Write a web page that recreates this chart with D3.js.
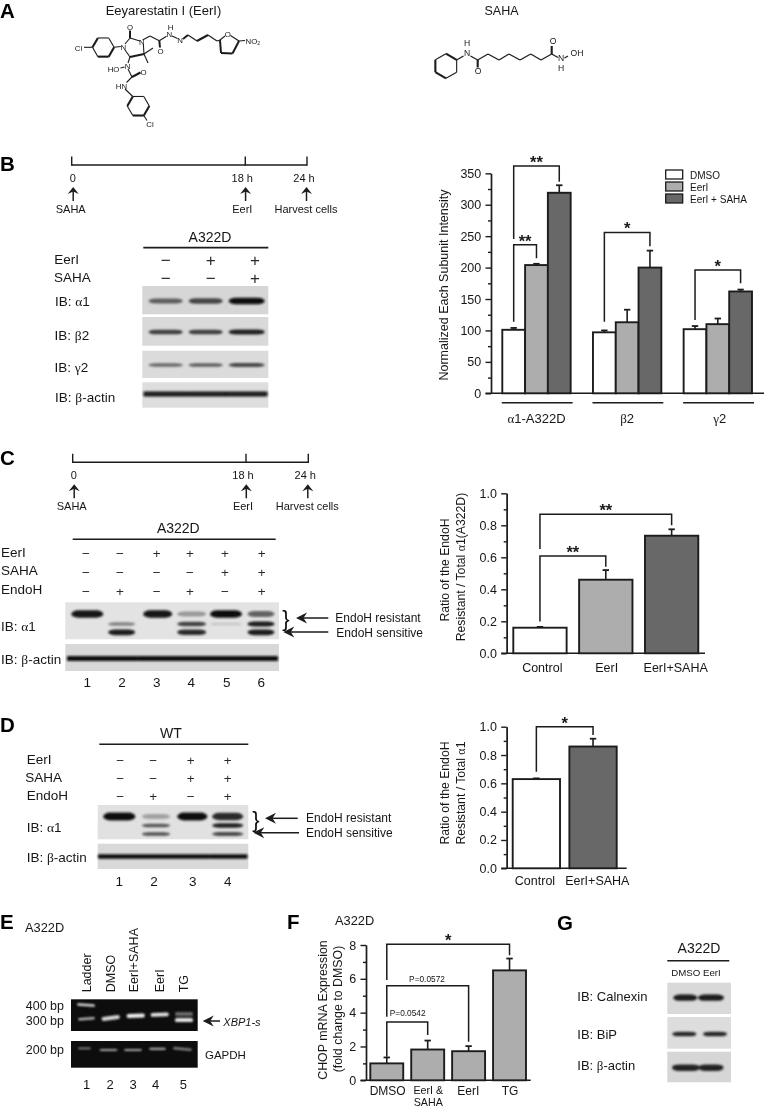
<!DOCTYPE html>
<html>
<head>
<meta charset="utf-8">
<script src="https://cdn.jsdelivr.net/npm/d3@7"></script>
<style>
  html, body { margin: 0; padding: 0; background: #fff; }
  svg { display: block; }
  text { font-family: "Liberation Sans", Arial, sans-serif; fill: #161616; }
</style>
</head>
<body>
<div id="viz"></div>
<script>
// panel B values
const bGroups = ['α1-A322D', 'β2', 'γ2'];
const bSeries = ['DMSO', 'EerI', 'EerI + SAHA'];
const bDmso = [101, 97, 102];
const bEerI = [204, 113, 110];
const bEerISaha = [319, 200, 162];
const bDmsoErr = [3, 3, 5];
const bEerIErr = [2, 20, 9];
const bEerISahaErr = [12, 27, 3];

// panel C values
const cCategories = ['Control', 'EerI', 'EerI+SAHA'];
const cValues = [0.16, 0.46, 0.735];
const cErr = [0.005, 0.06, 0.04];

// panel D values
const dCategories = ['Control', 'EerI+SAHA'];
const dValues = [0.63, 0.86];
const dErr = [0.005, 0.055];

// panel F values
const fCategories = ['DMSO', 'EerI &|SAHA', 'EerI', 'TG'];
const fValues = [1.0, 1.82, 1.72, 6.5];
const fErr = [0.35, 0.53, 0.3, 0.7];

// blot band darkness per lane, 0 = nothing, 1 = black
const bBlotAlpha = [0.6, 0.72, 0.98];
const bBlotBeta = [0.75, 0.75, 0.9];
const bBlotGamma = [0.55, 0.6, 0.72];
const bBlotActin = [0.92, 0.92, 0.92];
const cBlotUpper = [0.95, 0, 0.97, 0.35, 0.98, 0.6];
const cBlotMiddle = [0, 0.45, 0, 0.75, 0.14, 0.93];
const cBlotLower = [0, 0.93, 0, 0.85, 0, 0.93];
const cBlotActin = [0.98, 0.98, 0.98, 0.98, 0.98, 0.98];
const dBlotUpper = [0.98, 0.3, 0.98, 0.85];
const dBlotMiddle = [0, 0.65, 0, 0.9];
const dBlotLower = [0, 0.68, 0, 0.72];
const dBlotActin = [0.98, 0.98, 0.98, 0.98];
const gBlotCalnexin = [0.92, 0.92];
const gBlotBip = [0.88, 0.88];
const gBlotActin = [0.9, 0.9];

// gel band brightness
const eGelLadder = [0.85, 0.7];
const eGelXbp = [0.85, 0.95, 0.9, 0.9];
const eGelTgUpper = 0.4;
const eGelGapdh = [0.55, 0.65, 0.65, 0.65, 0.5];

const root = d3.select('#viz').append('svg').attr('width', 765).attr('height', 1108);
const defs = root.append('defs');
defs.append('filter').attr('id', 'blur').attr('x', '-20%').attr('y', '-100%').attr('width', '140%').attr('height', '300%')
  .append('feGaussianBlur').attr('stdDeviation', 0.9);
// the whole figure is a soft scan, so everything goes through a small blur
defs.append('filter').attr('id', 'soft').attr('filterUnits', 'userSpaceOnUse')
  .attr('x', 0).attr('y', 0).attr('width', 765).attr('height', 1108)
  .append('feGaussianBlur').attr('stdDeviation', 0.4);
const svg = root.append('g').attr('filter', 'url(#soft)');

const ink = '#1c1c1c';

// text helper, greek letters go in a serif tspan so they look like the symbol font
function txt(x, y, s, o) {
  o = o || {};
  const el = (o.g || svg).append('text')
    .attr('x', x).attr('y', y)
    .attr('dominant-baseline', 'central')
    .attr('text-anchor', o.anchor || 'start')
    .style('font-size', (o.size || 12.5) + 'px');
  if (o.weight) el.style('font-weight', o.weight);
  if (o.italic) el.style('font-style', 'italic');
  if (o.fill) el.style('fill', o.fill);
  if (o.rotate) el.attr('transform', `rotate(${o.rotate} ${x} ${y})`);
  s.split(/([αβγ])/).filter(p => p !== '').forEach(p => {
    const ts = el.append('tspan').text(p);
    if (/[αβγ]/.test(p)) ts.style('font-family', '"Liberation Serif", serif');
  });
  return el;
}

function seg(x1, y1, x2, y2, w, g) {
  return (g || svg).append('line')
    .attr('x1', x1).attr('y1', y1).attr('x2', x2).attr('y2', y2)
    .style('stroke', ink).style('stroke-width', w || 1).style('stroke-linecap', 'butt');
}

function arrowUp(x, tip, tail) {
  seg(x, tip + 3, x, tail, 1.5);
  svg.append('path')
    .attr('d', `M${x},${tip} L${x + 5.5},${tip + 7} L${x},${tip + 4.5} L${x - 5.5},${tip + 7} Z`)
    .style('fill', ink);
}

function arrowLeft(tip, tail, y) {
  seg(tip + 4, y, tail, y, 1.5);
  svg.append('path')
    .attr('d', `M${tip},${y} L${tip + 11},${y - 5.5} L${tip + 7.5},${y} L${tip + 11},${y + 5.5} Z`)
    .style('fill', ink);
}

function panelLetter(s, x, y) {
  txt(x, y, s, { size: 20.5, weight: 'bold', fill: '#000' });
}

// hexagon from centre and radius, start angle in degrees
function ring(cx, cy, r, start, thick) {
  const pts = d3.range(6).map(i => {
    const a = (start + i * 60) * Math.PI / 180;
    return [cx + r * Math.cos(a), cy + r * Math.sin(a)];
  });
  pts.forEach((p, i) => {
    const q = pts[(i + 1) % 6];
    seg(p[0], p[1], q[0], q[1], thick.includes(i) ? 2.1 : 1.1);
  });
}

// panel A
function drawStructures() {
  txt(163.5, 10, 'Eeyarestatin I (EerI)', { anchor: 'middle', size: 13 });
  txt(501.5, 11, 'SAHA', { anchor: 'middle', size: 12.5 });

  const atom = { anchor: 'middle', size: 7.8 };
  ring(103.3, 47.3, 10.8, 0, [0, 1, 3]);
  ring(138.3, 106, 11, 0, [0, 1, 3]);
  const thin = [
    [84, 47.3, 92.5, 47.3], [114.1, 47.3, 120.8, 46.5], [125, 44, 130, 38], [130, 38, 140, 41],
    [143.4, 45, 144, 54], [130, 57, 125, 50], [144, 54, 153, 48], [144, 54, 148, 63],
    [130, 57, 128, 63], [120.5, 68, 124.5, 67], [128, 69, 132, 77], [132, 77, 126.5, 82.5],
    [125, 89, 132.8, 96.5], [143.8, 115.5, 147, 120.5],
    [142.6, 40, 150, 36], [150, 36, 159.3, 40.7], [159.3, 40.7, 166.5, 36.2],
    [172, 36, 177.5, 38.5], [188, 35, 197, 41], [208, 35, 217, 41], [217, 41, 220, 40],
    [220, 40, 225, 36], [230.5, 35.5, 239, 41], [239, 41, 245, 40.5]
  ];
  thin.forEach(b => seg(b[0], b[1], b[2], b[3], 1.1));
  const heavy = [
    [144, 54, 130, 57], [130, 38, 130, 30.5], [132, 77, 140.5, 72.5], [159.3, 40.7, 160, 47.5],
    [183, 39, 188, 35], [197, 41, 208, 35], [239, 41, 232.5, 53.5], [232.5, 53.5, 221, 53], [221, 53, 220, 40]
  ];
  heavy.forEach(b => seg(b[0], b[1], b[2], b[3], 2));
  [['Cl', 78.5, 47.5], ['O', 130, 27], ['N', 123.3, 46.5], ['N', 141.7, 42], ['N', 127.5, 66],
   ['HO', 113.5, 69], ['O', 143.5, 72], ['HN', 121.5, 85.5], ['Cl', 150, 124],
   ['O', 160.5, 51], ['N', 169.3, 34], ['H', 170.6, 27], ['N', 180, 40], ['O', 227.7, 34]]
    .forEach(a => txt(a[1], a[2], a[0], atom));
  const no2 = txt(245.5, 41, 'NO', { size: 7.8 });
  no2.append('tspan').text('2').attr('dy', 2).style('font-size', '5px');

  ring(446, 66, 12.3, 30, [1, 2, 4]);
  const chain = [
    [456.6, 60, 463.5, 56], [470.5, 56, 477.7, 60], [477.7, 60, 488, 54], [488, 54, 499, 60], [499, 60, 509, 54],
    [509, 54, 520, 60], [520, 60, 530.7, 54], [530.7, 54, 541, 60], [541, 60, 551.7, 54],
    [551.7, 54, 558, 57.5], [564.5, 58, 568, 56]
  ];
  chain.forEach(b => seg(b[0], b[1], b[2], b[3], 1.3));
  seg(477.7, 60, 477.7, 67.5, 2.1);
  seg(551.7, 54, 551.7, 46, 2.1);
  const sa = { anchor: 'middle', size: 8.6 };
  [['H', 467, 43], ['N', 467, 53.2], ['O', 478, 71], ['O', 553, 41], ['N', 561, 58], ['H', 561, 68.2], ['OH', 577, 53]]
    .forEach(a => txt(a[1], a[2], a[0], sa));
}

function timeline(o) {
  seg(o.x0, o.y, o.x2, o.y, 1.5);
  [o.x0, o.x1, o.x2].forEach(x => seg(x, o.y + 0.7, x, o.y - 8.5, 1.4));
  const a = { anchor: 'middle', size: 11 };
  txt(o.x0 + 1, o.y + 13, '0', a);
  txt(o.x1 - 3, o.y + 13, '18 h', a);
  txt(o.x2 - 3, o.y + 13, '24 h', a);
  [o.x0 + 1.5, o.x1 + 0.3, o.x2 - 0.5].forEach(x => arrowUp(x, o.y + 22, o.y + 36));
  txt(o.x0 - 1, o.y + 44, 'SAHA', a);
  txt(o.x1 - 3, o.y + 44, 'EerI', a);
  txt(o.x2 - 1, o.y + 44, 'Harvest cells', a);
}

function signRows(columns, rows, ys, size) {
  rows.forEach((row, i) => {
    row.forEach((s, j) => {
      txt(columns[j], ys[i], s === 1 ? '+' : '\u2212', { anchor: 'middle', size: size, fill: '#2a2a2a' });
    });
  });
}

// western blot: grey strip with blurred lens shaped bands
function blot(o) {
  svg.append('rect')
    .attr('x', o.x0).attr('y', o.y0).attr('width', o.x1 - o.x0).attr('height', o.y1 - o.y0)
    .style('fill', o.bg || '#dcdcdc');
  const dark = d3.scaleLinear().domain([0, 1]).range([o.bg || '#dcdcdc', '#0c0c0c']);
  o.rows.forEach(r => {
    const g = svg.append('g').attr('filter', 'url(#blur)');
    const hh = d => r.h * (0.45 + d.v * 0.55);
    g.selectAll('rect').data(r.vals.map((v, i) => ({ v, i })).filter(d => d.v > 0)).join('rect')
      .attr('x', d => o.lanes[d.i] - o.widths[d.i] / 2)
      .attr('y', d => r.y - hh(d) / 2)
      .attr('width', d => o.widths[d.i])
      .attr('height', hh)
      .attr('rx', r.rx === undefined ? 7 : r.rx)
      .attr('ry', d => r.rx === undefined ? hh(d) / 2 : r.rx)
      .style('fill', d => dark(d.v));
  });
}

// gel with bright bands on black
function gel(x0, x1, y0, y1, bands) {
  svg.append('rect').attr('x', x0).attr('y', y0).attr('width', x1 - x0).attr('height', y1 - y0).style('fill', '#0b0b0b');
  const light = d3.scaleLinear().domain([0, 1]).range(['#0b0b0b', '#ffffff']);
  const g = svg.append('g').attr('filter', 'url(#blur)');
  g.selectAll('rect').data(bands).join('rect')
    .attr('x', d => d.x).attr('y', d => d.y - d.h / 2)
    .attr('width', d => d.w).attr('height', d => d.h).attr('rx', 1.5)
    .attr('transform', d => `rotate(${d.tilt || 0} ${d.x + d.w / 2} ${d.y})`)
    .style('fill', d => light(d.v));
}

// shared y axis with major and minor ticks
function yAxis(y, left, major, minor, fmt, right, size) {
  const g = svg.append('g').attr('transform', `translate(${left},0)`);
  const ax = g.append('g').call(d3.axisLeft(y).tickValues(major).tickSize(5.5).tickSizeOuter(0).tickFormat(fmt));
  const mi = g.append('g').call(d3.axisLeft(y).tickValues(minor).tickSize(3).tickSizeOuter(0).tickFormat(''));
  [ax, mi].forEach(a => {
    a.selectAll('path,line').style('stroke', ink).style('stroke-width', 1.4);
    a.selectAll('text').style('font-size', (size || 12.5) + 'px').attr('dx', '-0.1em');
  });
  seg(left - 5.5, y(0), right, y(0), 1.6);
}

function bars(g, data, o) {
  g.selectAll('rect').data(data).join('rect')
    .attr('x', d => d.x).attr('width', d => d.w)
    .attr('y', d => o.y(d.v)).attr('height', d => o.y(0) - o.y(d.v))
    .style('fill', d => d.fill).style('stroke', ink).style('stroke-width', 1.9);
  g.selectAll('line.err').data(data).join('line').attr('class', 'err')
    .attr('x1', d => d.x + d.w / 2).attr('x2', d => d.x + d.w / 2)
    .attr('y1', d => o.y(d.v)).attr('y2', d => o.y(d.v + d.e))
    .style('stroke', ink).style('stroke-width', 1.6);
  g.selectAll('line.cap').data(data).join('line').attr('class', 'cap')
    .attr('x1', d => d.x + d.w / 2 - 3.2).attr('x2', d => d.x + d.w / 2 + 3.2)
    .attr('y1', d => o.y(d.v + d.e)).attr('y2', d => o.y(d.v + d.e))
    .style('stroke', ink).style('stroke-width', 1.8);
}

// significance bracket, heights are in axis units
function bracket(x1, x2, y, from, top, to, star, size) {
  svg.append('path')
    .attr('d', `M${x1},${y(from)} V${y(top)} H${x2} V${y(to)}`)
    .style('fill', 'none').style('stroke', ink).style('stroke-width', 1.5);
  if (star) txt((x1 + x2) / 2, y(top) - 4, star, { anchor: 'middle', size: size || 16.5, weight: 'bold', fill: '#1a1a1a' });
}

const white = '#ffffff', lightGrey = '#adadad', darkGrey = '#686868';

drawStructures();
panelLetter('A', 0, 10);
panelLetter('B', 0, 163);
panelLetter('C', 0, 457);
panelLetter('D', 0, 724);
panelLetter('E', 0, 921);
panelLetter('F', 287, 921);
panelLetter('G', 557, 922);

// panel B left
timeline({ x0: 71.7, x1: 245.3, x2: 307, y: 165 });
txt(210, 236.7, 'A322D', { anchor: 'middle', size: 14 });
seg(143.3, 247.7, 268.3, 247.7, 1.7);
txt(54.3, 259, 'EerI', { size: 13.5 });
txt(54, 277, 'SAHA', { size: 13.5 });
signRows([165.7, 210.7, 255], [[0, 1, 1], [0, 0, 1]], [260, 278], 17);
const bLanes = [165.7, 205.7, 246.7], bWidths = [34, 34, 36];
blot({ x0: 142.3, x1: 268.3, y0: 286, y1: 314.3, bg: '#d6d6d6', lanes: bLanes, widths: bWidths, rows: [{ y: 301, h: 6.5, vals: bBlotAlpha }] });
blot({ x0: 142.3, x1: 268.3, y0: 317, y1: 345.7, bg: '#d9d9d9', lanes: bLanes, widths: bWidths, rows: [{ y: 332, h: 5.5, vals: bBlotBeta }] });
blot({ x0: 142.3, x1: 268.3, y0: 350.7, y1: 378, bg: '#dbdbdb', lanes: bLanes, widths: bWidths, rows: [{ y: 365, h: 4.5, vals: bBlotGamma }] });
blot({ x0: 142.3, x1: 268.3, y0: 382.3, y1: 407.7, bg: '#dedede', lanes: [165, 206, 246], widths: [43, 42, 43], rows: [{ y: 394, h: 5, rx: 1, vals: bBlotActin }] });
txt(55, 301.3, 'IB: α1', { size: 13.5 });
txt(54.5, 335, 'IB: β2', { size: 13.5 });
txt(54.5, 366.5, 'IB: γ2', { size: 13.5 });
txt(55, 397, 'IB: β-actin', { size: 13.5 });

// panel B chart
{
  const y = d3.scaleLinear().domain([0, 350]).range([393.3, 173.3]);
  const x0 = d3.scaleBand().domain(bGroups).range([502.3, 752]).paddingInner(0.246);
  const x1 = d3.scaleBand().domain(bSeries).range([0, x0.bandwidth()]);
  const fill = d3.scaleOrdinal().domain(bSeries).range([white, lightGrey, darkGrey]);
  yAxis(y, 491, d3.range(0, 351, 50), d3.range(25, 350, 50), d3.format('d'), 764);
  const vals = [bDmso, bEerI, bEerISaha], errs = [bDmsoErr, bEerIErr, bEerISahaErr];
  const data = [];
  bGroups.forEach((g, i) => bSeries.forEach((s, j) => data.push({
    x: x0(g) + x1(s), w: x1.bandwidth(), v: vals[j][i], e: errs[j][i], fill: fill(s)
  })));
  bars(svg.append('g'), data, { y });
  const c = (g, s) => x0(g) + x1(s) + x1.bandwidth() / 2;
  bracket(c(bGroups[0], bSeries[0]), c(bGroups[0], bSeries[2]), y, 245.5, 361.6, 336.7, '**');
  bracket(c(bGroups[0], bSeries[0]), c(bGroups[0], bSeries[1]), y, 114, 236.4, 215, '**');
  bracket(c(bGroups[1], bSeries[0]), c(bGroups[1], bSeries[2]), y, 114, 256, 234, '*');
  bracket(c(bGroups[2], bSeries[0]), c(bGroups[2], bSeries[2]), y, 116.6, 196, 175, '*');
  bGroups.forEach(g => {
    seg(x0(g) - 0.5, 402.7, x0(g) + x0.bandwidth() + 2, 402.7, 1.6);
    txt(x0(g) + x0.bandwidth() / 2 + (g === 'γ2' ? 2 : 0), 418, g, { anchor: 'middle', size: 13 });
  });
  txt(444.3, 285, 'Normalized Each Subunit Intensity', { anchor: 'middle', size: 12.5, rotate: -90 });
  const leg = svg.append('g');
  bSeries.forEach((s, i) => {
    const ly = [170, 182, 194][i];
    leg.append('rect').attr('x', 665.7).attr('y', ly).attr('width', 17).attr('height', 9)
      .style('fill', fill(s)).style('stroke', ink).style('stroke-width', 1.3);
    txt(690, ly + 4.7, s, { size: 10, g: leg });
  });
}

// panel C left
timeline({ x0: 72.7, x1: 246, x2: 308.3, y: 462.3 });
txt(178.3, 528.3, 'A322D', { anchor: 'middle', size: 14 });
seg(72.7, 539.3, 275.7, 539.3, 1.5);
txt(1, 552, 'EerI', { size: 13.5 });
txt(1, 569.7, 'SAHA', { size: 13.5 });
txt(1, 589, 'EndoH', { size: 13.5 });
signRows([86, 120, 156.7, 190, 225, 261.7], [[0, 0, 1, 1, 1, 1], [0, 0, 0, 0, 1, 1], [0, 1, 0, 1, 0, 1]], [553.3, 572, 590.7], 13.5);
const cLanes = [87.3, 121.7, 157.7, 191.7, 226, 261];
const cWidths = [32, 27, 29, 29, 32, 27];
blot({ x0: 65.3, x1: 279, y0: 602.3, y1: 639.3, bg: '#e3e3e3', lanes: cLanes, widths: cWidths, rows: [
  { y: 614, h: 7.5, vals: cBlotUpper },
  { y: 624, h: 5, vals: cBlotMiddle },
  { y: 632.3, h: 6, vals: cBlotLower }
] });
blot({ x0: 65.3, x1: 279, y0: 644, y1: 671, bg: '#d8d8d8', lanes: [85, 120, 155.5, 190, 225, 260], widths: [36, 36, 36, 36, 36, 36], rows: [{ y: 658.5, h: 5, rx: 1, vals: cBlotActin }] });
txt(1, 626, 'IB: α1', { size: 13.5 });
txt(1, 659, 'IB: β-actin', { size: 13.5 });
[87.3, 122, 156.7, 191.3, 226.7, 261.3].forEach((x, i) => txt(x, 681.7, String(i + 1), { anchor: 'middle', size: 13.5 }));
txt(286, 618, '}', { anchor: 'middle', size: 22, fill: '#111' });
arrowLeft(296, 328.3, 618);
arrowLeft(283.3, 328.3, 632);
txt(335.3, 618, 'EndoH resistant', { size: 12 });
txt(336.3, 633.3, 'EndoH sensitive', { size: 12 });

// panel C chart
{
  const y = d3.scaleLinear().domain([0, 1]).range([653.3, 493.3]);
  const x = d3.scaleBand().domain(cCategories).range([513.3, 698.3]).paddingInner(0.19);
  const fills = [white, lightGrey, darkGrey];
  yAxis(y, 506.7, d3.range(0, 1.01, 0.2), d3.range(0.1, 1, 0.2), d3.format('.1f'), 705);
  bars(svg.append('g'), cCategories.map((c, i) => ({ x: x(c), w: x.bandwidth(), v: cValues[i], e: cErr[i], fill: fills[i] })), { y });
  const c = n => x(n) + x.bandwidth() / 2;
  bracket(c('Control'), c('EerI+SAHA'), y, 0.652, 0.869, 0.8, '**');
  bracket(c('Control'), c('EerI'), y, 0.198, 0.608, 0.541, '**');
  txt(542.3, 667.7, 'Control', { anchor: 'middle' });
  txt(606.7, 667.7, 'EerI', { anchor: 'middle' });
  txt(675.7, 667.7, 'EerI+SAHA', { anchor: 'middle' });
  txt(445, 570, 'Ratio of the EndoH', { anchor: 'middle', size: 12.2, rotate: -90 });
  txt(460.7, 567, 'Resistant / Total α1(A322D)', { anchor: 'middle', size: 12.2, rotate: -90 });
}

// panel D left
txt(171, 733.3, 'WT', { anchor: 'middle', size: 14 });
seg(99.3, 744.3, 248.3, 744.3, 1.6);
txt(26.7, 758.7, 'EerI', { size: 13.5 });
txt(25.3, 776.7, 'SAHA', { size: 13.5 });
txt(26.7, 795, 'EndoH', { size: 13.5 });
signRows([120.3, 153.3, 190.7, 227.7], [[0, 0, 1, 1], [0, 0, 1, 1], [0, 1, 0, 1]], [760, 778, 796.3], 13.5);
const dLanes = [119.3, 156, 192.3, 227.7], dWidths = [32, 28, 30, 31];
blot({ x0: 97.7, x1: 248.3, y0: 805, y1: 839.3, bg: '#e1e1e1', lanes: dLanes, widths: dWidths, rows: [
  { y: 816.5, h: 8, vals: dBlotUpper },
  { y: 825.5, h: 4.5, vals: dBlotMiddle },
  { y: 834, h: 4.5, vals: dBlotLower }
] });
blot({ x0: 97.7, x1: 248.3, y0: 843.7, y1: 869, bg: '#d9d9d9', lanes: [117, 154, 191, 228.5], widths: [38, 38, 38, 38], rows: [{ y: 856.5, h: 4.5, rx: 1, vals: dBlotActin }] });
txt(26.7, 827, 'IB: α1', { size: 13.5 });
txt(26.7, 857, 'IB: β-actin', { size: 13.5 });
[119.3, 154, 192.7, 227.7].forEach((x, i) => txt(x, 881, String(i + 1), { anchor: 'middle', size: 13.5 }));
txt(256, 818.5, '}', { anchor: 'middle', size: 22, fill: '#111' });
arrowLeft(265, 297.7, 818.3);
arrowLeft(253.3, 299, 832.7);
txt(306, 818, 'EndoH resistant', { size: 12 });
txt(306, 832.7, 'EndoH sensitive', { size: 12 });

// panel D chart
{
  const y = d3.scaleLinear().domain([0, 1]).range([868.3, 726.7]);
  const x = d3.scaleBand().domain(dCategories).range([512.7, 616.7]).paddingInner(0.165);
  const fills = [white, darkGrey];
  yAxis(y, 506.7, d3.range(0, 1.01, 0.2), d3.range(0.1, 1, 0.2), d3.format('.1f'), 626.7);
  bars(svg.append('g'), dCategories.map((c, i) => ({ x: x(c), w: x.bandwidth(), v: dValues[i], e: dErr[i], fill: fills[i] })), { y });
  const c = n => x(n) + x.bandwidth() / 2;
  bracket(c('Control'), c('EerI+SAHA'), y, 0.682, 1.0, 0.941, '*');
  txt(535, 881, 'Control', { anchor: 'middle' });
  txt(597.3, 881, 'EerI+SAHA', { anchor: 'middle' });
  txt(445, 793, 'Ratio of the EndoH', { anchor: 'middle', size: 12.2, rotate: -90 });
  txt(460.7, 793, 'Resistant / Total α1', { anchor: 'middle', size: 12.2, rotate: -90 });
}

// panel E
txt(25, 926.7, 'A322D', { size: 12.8 });
[['Ladder', 86.7], ['DMSO', 111], ['EerI+SAHA', 134], ['EerI', 160], ['TG', 184]]
  .forEach(l => txt(l[1], 992.3, l[0], { size: 12.5, rotate: -90 }));
{
  const w = 18;
  const xs = [101.7, 126.7, 150.7, 175];
  gel(71, 197.7, 999.3, 1031, [
    { x: 77, y: 1005, w: 18, h: 2.6, v: eGelLadder[0], tilt: 4 },
    { x: 78, y: 1018.7, w: 17, h: 2.6, v: eGelLadder[1], tilt: -4 },
    { x: xs[0], y: 1018, w, h: 4, v: eGelXbp[0], tilt: -7 },
    { x: xs[1], y: 1015.7, w, h: 4, v: eGelXbp[1], tilt: -2 },
    { x: xs[2], y: 1014.7, w, h: 3.8, v: eGelXbp[2], tilt: -2 },
    { x: xs[3], y: 1020, w, h: 4, v: eGelXbp[3] },
    { x: xs[3], y: 1014, w, h: 4, v: eGelTgUpper }
  ]);
  gel(71, 197.7, 1041, 1067.7, [
    { x: 78, y: 1048.3, w: 13, h: 1.8, v: eGelGapdh[0] },
    { x: 99.5, y: 1050, w: 18, h: 2.2, v: eGelGapdh[1] },
    { x: 124, y: 1050, w: 18, h: 2.2, v: eGelGapdh[2] },
    { x: 149, y: 1048.8, w: 17, h: 2.2, v: eGelGapdh[3] },
    { x: 173, y: 1049, w: 19, h: 2.4, v: eGelGapdh[4], tilt: 5 }
  ]);
}
txt(64, 1006, '400 bp', { anchor: 'end' });
txt(64, 1021.3, '300 bp', { anchor: 'end' });
txt(64, 1050.3, '200 bp', { anchor: 'end' });
[86.7, 110, 133, 155.7, 183.3].forEach((x, i) => txt(x, 1084.3, String(i + 1), { anchor: 'middle', size: 13 }));
arrowLeft(202.7, 220, 1021);
txt(223.3, 1021.7, 'XBP1-s', { size: 11, italic: true });
txt(205, 1055, 'GAPDH', { size: 11.5 });

// panel F
txt(335, 920, 'A322D', { size: 12.8 });
{
  const y = d3.scaleLinear().domain([0, 8]).range([1080.3, 945]);
  const x = d3.scaleBand().domain(fCategories).range([370.3, 526]).paddingInner(0.195);
  yAxis(y, 366, d3.range(0, 9, 2), d3.range(1, 8, 2), d3.format('d'), 530.7);
  bars(svg.append('g'), fCategories.map((c, i) => ({ x: x(c), w: x.bandwidth(), v: fValues[i], e: fErr[i], fill: lightGrey })), { y });
  const c = i => x(fCategories[i]) + x.bandwidth() / 2;
  bracket(c(0), c(3), y, 5.93, 8.05, 7.4, '*');
  bracket(c(0), c(2), y, 3.76, 5.59, 2.28);
  bracket(c(0), c(1), y, 1.39, 3.45, 2.68);
  txt(427, 979, 'P=0.0572', { anchor: 'middle', size: 8.3 });
  txt(407.7, 1013.3, 'P=0.0542', { anchor: 'middle', size: 8.3 });
  txt(387.7, 1091, 'DMSO', { anchor: 'middle', size: 12 });
  fCategories[1].split('|').forEach((s, i) => txt(428.3, 1089.5 + i * 12.4, s, { anchor: 'middle', size: 10.7 }));
  txt(468.3, 1091, 'EerI', { anchor: 'middle', size: 12 });
  txt(510, 1091, 'TG', { anchor: 'middle', size: 12 });
  txt(322.7, 1010, 'CHOP mRNA Expression', { anchor: 'middle', size: 12.4, rotate: -90 });
  txt(338.3, 1009, '(fold change to DMSO)', { anchor: 'middle', size: 12.4, rotate: -90 });
}

// panel G
txt(699, 948.3, 'A322D', { anchor: 'middle', size: 14 });
seg(667.3, 960.7, 729.3, 960.7, 1.6);
txt(696, 972, 'DMSO EerI', { anchor: 'middle', size: 9.7 });
blot({ x0: 667.3, x1: 731, y0: 982.7, y1: 1014, bg: '#d9d9d9', lanes: [685.3, 711], widths: [24, 26], rows: [{ y: 997.7, h: 6.5, vals: gBlotCalnexin }] });
blot({ x0: 667.3, x1: 731, y0: 1017, y1: 1048.7, bg: '#dddddd', lanes: [684.3, 715], widths: [24, 24], rows: [{ y: 1034, h: 5, vals: gBlotBip }] });
blot({ x0: 667.3, x1: 731, y0: 1051.7, y1: 1082.3, bg: '#d6d6d6', lanes: [686, 711], widths: [28, 25], rows: [{ y: 1067.7, h: 7, vals: gBlotActin }] });
txt(577.3, 996.3, 'IB: Calnexin', { size: 13 });
txt(577.3, 1034, 'IB: BiP', { size: 13 });
txt(577.3, 1064.7, 'IB: β-actin', { size: 13 });
</script>
</body>
</html>
